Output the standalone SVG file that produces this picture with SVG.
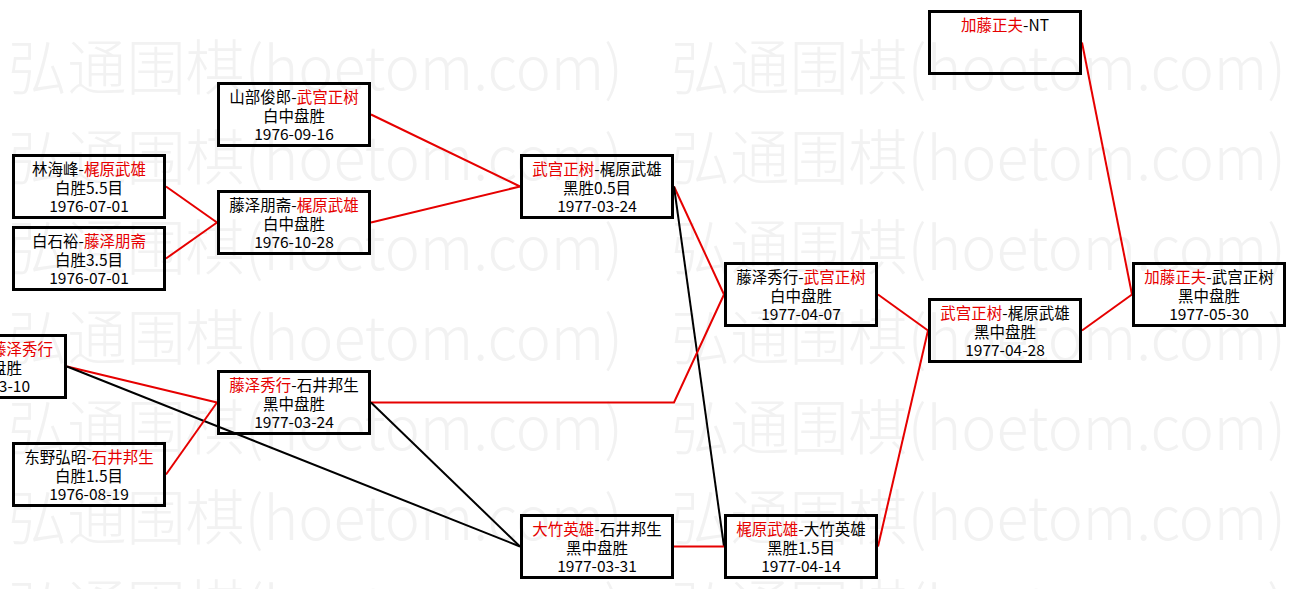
<svg xmlns="http://www.w3.org/2000/svg" width="1297" height="589" viewBox="0 0 1297 589">
<style>
.wm{font-family:"Noto Sans CJK SC","Noto Sans",sans-serif;font-size:60px;font-weight:300;fill:#f2f2f2}
.box{fill:none;stroke:#000;stroke-width:3}
.t{font-family:"Noto Sans CJK SC","Noto Sans",sans-serif;font-size:15.5px;fill:#000;text-anchor:middle}
.r{fill:#e60000}
.cr{fill:none;stroke:#e60000;stroke-width:2}
.cb{fill:none;stroke:#000;stroke-width:2}
</style>
<rect width="1297" height="589" fill="#ffffff"/>
<g id="watermark">
<text class="wm" x="8" y="90" textLength="615" lengthAdjust="spacingAndGlyphs">弘通围棋(hoetom.com)</text>
<text class="wm" x="671" y="90" textLength="615" lengthAdjust="spacingAndGlyphs">弘通围棋(hoetom.com)</text>
<text class="wm" x="8" y="180" textLength="615" lengthAdjust="spacingAndGlyphs">弘通围棋(hoetom.com)</text>
<text class="wm" x="671" y="180" textLength="615" lengthAdjust="spacingAndGlyphs">弘通围棋(hoetom.com)</text>
<text class="wm" x="8" y="270" textLength="615" lengthAdjust="spacingAndGlyphs">弘通围棋(hoetom.com)</text>
<text class="wm" x="671" y="270" textLength="615" lengthAdjust="spacingAndGlyphs">弘通围棋(hoetom.com)</text>
<text class="wm" x="8" y="360" textLength="615" lengthAdjust="spacingAndGlyphs">弘通围棋(hoetom.com)</text>
<text class="wm" x="671" y="360" textLength="615" lengthAdjust="spacingAndGlyphs">弘通围棋(hoetom.com)</text>
<text class="wm" x="8" y="450" textLength="615" lengthAdjust="spacingAndGlyphs">弘通围棋(hoetom.com)</text>
<text class="wm" x="671" y="450" textLength="615" lengthAdjust="spacingAndGlyphs">弘通围棋(hoetom.com)</text>
<text class="wm" x="8" y="540" textLength="615" lengthAdjust="spacingAndGlyphs">弘通围棋(hoetom.com)</text>
<text class="wm" x="671" y="540" textLength="615" lengthAdjust="spacingAndGlyphs">弘通围棋(hoetom.com)</text>
<text class="wm" x="8" y="630" textLength="615" lengthAdjust="spacingAndGlyphs">弘通围棋(hoetom.com)</text>
<text class="wm" x="671" y="630" textLength="615" lengthAdjust="spacingAndGlyphs">弘通围棋(hoetom.com)</text>
</g>
<g id="connectors">
<line class="cr" x1="166" y1="186.5" x2="217" y2="222.5"/>
<line class="cr" x1="166" y1="258.5" x2="217" y2="222.5"/>
<line class="cr" x1="371" y1="114.5" x2="520" y2="186.5"/>
<line class="cr" x1="371" y1="222.5" x2="520" y2="186.5"/>
<line class="cr" x1="674" y1="186.5" x2="724" y2="294.5"/>
<line class="cb" x1="674" y1="186.5" x2="724" y2="546.5"/>
<polyline class="cr" points="371,402.5 674,402.5 724,294.5"/>
<line class="cr" x1="67" y1="366.5" x2="217" y2="402.5"/>
<line class="cb" x1="67" y1="366.5" x2="520" y2="546.5"/>
<line class="cb" x1="371" y1="402.5" x2="520" y2="546.5"/>
<line class="cr" x1="166" y1="474.5" x2="217" y2="402.5"/>
<line class="cr" x1="674" y1="546.5" x2="724" y2="546.5"/>
<line class="cr" x1="878" y1="294.5" x2="928" y2="330.5"/>
<line class="cr" x1="878" y1="546.5" x2="928" y2="330.5"/>
<line class="cr" x1="1082" y1="330.5" x2="1132" y2="294.5"/>
<line class="cr" x1="1082" y1="42.5" x2="1132" y2="294.5"/>
</g>
<g id="nA">
<rect class="box" x="218.5" y="83.5" width="151" height="62"/>
<text class="t" x="294" y="103">山部俊郎-<tspan class="r">武宫正树</tspan></text>
<text class="t" x="294" y="122">白中盘胜</text>
<text class="t" x="294" y="140">1976-09-16</text>
</g>
<g id="nB">
<rect class="box" x="13.5" y="155.5" width="151" height="62"/>
<text class="t" x="89" y="175">林海峰-<tspan class="r">梶原武雄</tspan></text>
<text class="t" x="89" y="194">白胜5.5目</text>
<text class="t" x="89" y="212">1976-07-01</text>
</g>
<g id="nC">
<rect class="box" x="218.5" y="191.5" width="151" height="62"/>
<text class="t" x="294" y="211">藤泽朋斋-<tspan class="r">梶原武雄</tspan></text>
<text class="t" x="294" y="230">白中盘胜</text>
<text class="t" x="294" y="248">1976-10-28</text>
</g>
<g id="nD">
<rect class="box" x="13.5" y="227.5" width="151" height="62"/>
<text class="t" x="89" y="247">白石裕-<tspan class="r">藤泽朋斋</tspan></text>
<text class="t" x="89" y="266">白胜3.5目</text>
<text class="t" x="89" y="284">1976-07-01</text>
</g>
<g id="nE">
<rect class="box" x="521.5" y="155.5" width="151" height="62"/>
<text class="t" x="597" y="175"><tspan class="r">武宫正树</tspan>-梶原武雄</text>
<text class="t" x="597" y="194">黑胜0.5目</text>
<text class="t" x="597" y="212">1977-03-24</text>
</g>
<g id="nF">
<rect class="box" x="725.5" y="263.5" width="151" height="62"/>
<text class="t" x="801" y="283">藤泽秀行-<tspan class="r">武宫正树</tspan></text>
<text class="t" x="801" y="302">白中盘胜</text>
<text class="t" x="801" y="320">1977-04-07</text>
</g>
<g id="nP">
<rect class="box" x="-85.5" y="335.5" width="151" height="62"/>
<text class="t r" x="53" y="355" style="text-anchor:end">藤泽秀行</text>
<text class="t" x="22" y="374" style="text-anchor:end">盘胜</text>
<text class="t" x="30" y="392" style="text-anchor:end">3-10</text>
</g>
<g id="nG">
<rect class="box" x="218.5" y="371.5" width="151" height="62"/>
<text class="t" x="294" y="391"><tspan class="r">藤泽秀行</tspan>-石井邦生</text>
<text class="t" x="294" y="410">黑中盘胜</text>
<text class="t" x="294" y="428">1977-03-24</text>
</g>
<g id="nH">
<rect class="box" x="13.5" y="443.5" width="151" height="62"/>
<text class="t" x="89" y="463">东野弘昭-<tspan class="r">石井邦生</tspan></text>
<text class="t" x="89" y="482">白胜1.5目</text>
<text class="t" x="89" y="500">1976-08-19</text>
</g>
<g id="nI">
<rect class="box" x="521.5" y="515.5" width="151" height="62"/>
<text class="t" x="597" y="535"><tspan class="r">大竹英雄</tspan>-石井邦生</text>
<text class="t" x="597" y="554">黑中盘胜</text>
<text class="t" x="597" y="572">1977-03-31</text>
</g>
<g id="nJ">
<rect class="box" x="725.5" y="515.5" width="151" height="62"/>
<text class="t" x="801" y="535"><tspan class="r">梶原武雄</tspan>-大竹英雄</text>
<text class="t" x="801" y="554">黑胜1.5目</text>
<text class="t" x="801" y="572">1977-04-14</text>
</g>
<g id="nK">
<rect class="box" x="929.5" y="11.5" width="151" height="62"/>
<text class="t" x="1005" y="31"><tspan class="r">加藤正夫</tspan>-NT</text>
</g>
<g id="nL">
<rect class="box" x="1133.5" y="263.5" width="151" height="62"/>
<text class="t" x="1209" y="283"><tspan class="r">加藤正夫</tspan>-武宫正树</text>
<text class="t" x="1209" y="302">黑中盘胜</text>
<text class="t" x="1209" y="320">1977-05-30</text>
</g>
<g id="nM">
<rect class="box" x="929.5" y="299.5" width="151" height="62"/>
<text class="t" x="1005" y="319"><tspan class="r">武宫正树</tspan>-梶原武雄</text>
<text class="t" x="1005" y="338">黑中盘胜</text>
<text class="t" x="1005" y="356">1977-04-28</text>
</g>
</svg>
